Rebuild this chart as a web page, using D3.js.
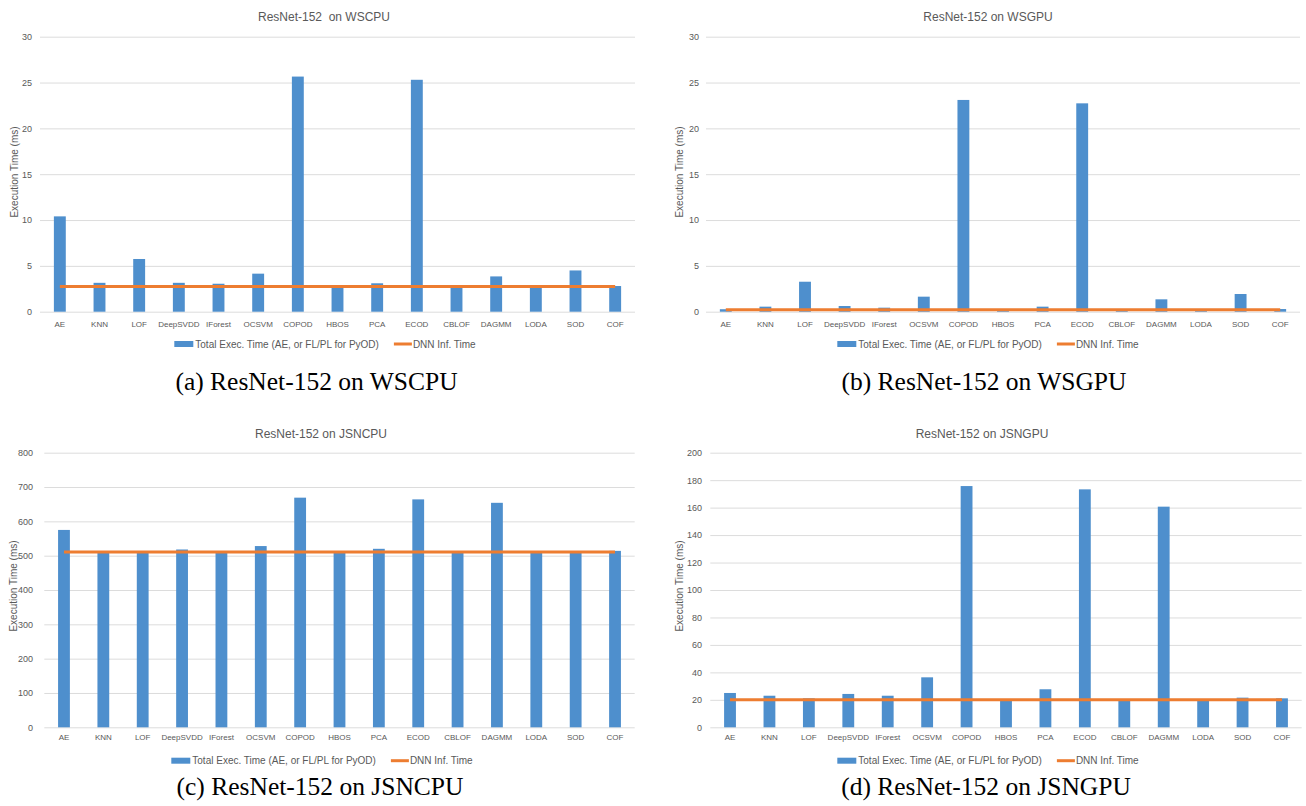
<!DOCTYPE html>
<html><head><meta charset="utf-8">
<script src="https://cdn.jsdelivr.net/npm/d3@7"></script>
<style>body{margin:0;background:#fff} svg{display:block}</style>
</head><body>
<svg id="c" width="1306" height="806"></svg>
<script>
// ---------------- DATA ----------------
const categories = ["AE","KNN","LOF","DeepSVDD","IForest","OCSVM","COPOD","HBOS","PCA","ECOD","CBLOF","DAGMM","LODA","SOD","COF"];
const wscpuTotal = [10.4,3.15,5.75,3.15,3.05,4.15,25.65,2.7,3.1,25.3,2.7,3.85,2.7,4.5,2.8];
const wscpuDnn = 2.75;
const wsgpuTotal = [0.27,0.55,3.27,0.62,0.44,1.64,23.1,0.12,0.55,22.73,0.12,1.35,0.12,1.93,0.29];
const wsgpuDnn = 0.22;
const jsncpuTotal = [575,512,512,518,512,528,669,512,520,664,512,654,512,512,514];
const jsncpuDnn = 511;
const jsngpuTotal = [25,23,21.1,24.3,23,36.4,175.7,19.5,27.7,173.3,19.5,160.7,19.5,21.6,21.1];
const jsngpuDnn = 20;
const titles = ["ResNet-152  on WSCPU","ResNet-152 on WSGPU","ResNet-152 on JSNCPU","ResNet-152 on JSNGPU"];
const captions = ["(a) ResNet-152 on WSCPU","(b) ResNet-152 on WSGPU","(c) ResNet-152 on JSNCPU","(d) ResNet-152 on JSNGPU"];
const yMax = [30,30,800,200];
const yTickValues = [
  [0,5,10,15,20,25,30],
  [0,5,10,15,20,25,30],
  [0,100,200,300,400,500,600,700,800],
  [0,20,40,60,80,100,120,140,160,180,200]
];
const legendLabels = ["Total Exec. Time (AE, or FL/PL for PyOD)","DNN Inf. Time"];
const yAxisLabel = "Execution Time (ms)";
const totals = [wscpuTotal, wsgpuTotal, jsncpuTotal, jsngpuTotal];
const dnns = [wscpuDnn, wsgpuDnn, jsncpuDnn, jsngpuDnn];

// ---------------- LAYOUT ----------------
const layout = [
  {left:40,   right:635,    top:36.7,  bottom:311.7, tickX:32,  ytX:14,  ytY:172, titleX:324, titleY:17,  xlabY:324,   legX:325, legY:344,   capX:316.5, capY:390},
  {left:706,  right:1300,   top:36.7,  bottom:311.7, tickX:699, ytX:679, ytY:172, titleX:988, titleY:17,  xlabY:324,   legX:988, legY:344,   capX:984,   capY:390},
  {left:44.3, right:634.7,  top:452.7, bottom:727.3, tickX:33,  ytX:13,  ytY:586, titleX:321, titleY:434, xlabY:736.7, legX:322, legY:760.7, capX:320,   capY:795},
  {left:710.3,right:1301.7, top:452.7, bottom:727.3, tickX:702, ytX:679, ytY:586, titleX:982, titleY:434, xlabY:736.7, legX:988, legY:760.7, capX:986,   capY:795}
];
const BLUE = "#4e8fcd", ORANGE = "#ed7d31", GRID = "#dcdcdc", TXT = "#595959";
const SANS = "'Liberation Sans', Arial, sans-serif";
const SERIF = "'Liberation Serif', 'Times New Roman', serif";

const svg = d3.select("#c");

layout.forEach((L, i) => {
  const g = svg.append("g");
  const x = d3.scaleBand().domain(categories).range([L.left, L.right]).padding(0);
  const y = d3.scaleLinear().domain([0, yMax[i]]).range([L.bottom, L.top]);

  // gridlines + y tick labels
  const ya = g.append("g").attr("transform", `translate(${L.left},0)`)
    .call(d3.axisLeft(y).tickValues(yTickValues[i]).tickSize(-(L.right - L.left)).tickPadding(L.left - L.tickX));
  ya.select(".domain").remove();
  ya.selectAll(".tick line").attr("stroke", GRID).attr("stroke-width", 1);
  ya.selectAll(".tick text").attr("fill", TXT).style("font-family", SANS).style("font-size", "9px");

  // bars
  const bw = x.bandwidth() * 0.3;
  g.append("g").selectAll("rect").data(totals[i]).join("rect")
    .attr("x", (d, k) => x(categories[k]) + (x.bandwidth() - bw) / 2)
    .attr("width", bw)
    .attr("y", d => y(d))
    .attr("height", d => y(0) - y(d))
    .attr("fill", BLUE);

  // DNN line
  const lineData = categories.map(c => ({c, v: dnns[i]}));
  g.append("path").datum([lineData[0], lineData[lineData.length - 1]])
    .attr("d", d3.line().x(d => x(d.c) + x.bandwidth() / 2).y(d => y(d.v)))
    .attr("stroke", ORANGE).attr("stroke-width", 3).attr("fill", "none");

  // x labels
  const xa = g.append("g").attr("transform", `translate(0,${L.xlabY})`)
    .call(d3.axisBottom(x).tickSize(0).tickPadding(0));
  xa.select(".domain").remove();
  xa.selectAll(".tick text").attr("fill", TXT).attr("dy", "0.35em").attr("y", 0)
    .style("font-family", SANS).style("font-size", "8px");

  // title
  g.append("text").attr("x", L.titleX).attr("y", L.titleY).attr("dy", "0.35em")
    .attr("text-anchor", "middle").attr("fill", TXT)
    .style("font-family", SANS).style("font-size", "12px").style("white-space", "pre")
    .text(titles[i]);

  // y axis title
  g.append("text").attr("transform", `translate(${L.ytX},${L.ytY}) rotate(-90)`)
    .attr("dy", "0.35em").attr("text-anchor", "middle").attr("fill", TXT)
    .style("font-family", SANS).style("font-size", "10px").text(yAxisLabel);

  // legend
  const lg = g.append("g");
  lg.append("rect").attr("x", 0).attr("y", -3).attr("width", 19).attr("height", 6).attr("fill", BLUE);
  const t1 = lg.append("text").attr("x", 21).attr("y", 0).attr("dy", "0.35em").attr("fill", TXT)
    .style("font-family", SANS).style("font-size", "10px").text(legendLabels[0]);
  const w1 = t1.node().getComputedTextLength();
  const lx = 21 + w1 + 15;
  lg.append("line").attr("x1", lx).attr("x2", lx + 18).attr("y1", 0).attr("y2", 0)
    .attr("stroke", ORANGE).attr("stroke-width", 3);
  const t2 = lg.append("text").attr("x", lx + 19).attr("y", 0).attr("dy", "0.35em").attr("fill", TXT)
    .style("font-family", SANS).style("font-size", "10px").text(legendLabels[1]);
  const total = lx + 19 + t2.node().getComputedTextLength();
  lg.attr("transform", `translate(${L.legX - total / 2},${L.legY})`);

  // caption
  g.append("text").attr("x", L.capX).attr("y", L.capY).attr("text-anchor", "middle")
    .attr("fill", "#000").style("font-family", SERIF).style("font-size", "25.5px")
    .text(captions[i]);
});
</script>
</body></html>
